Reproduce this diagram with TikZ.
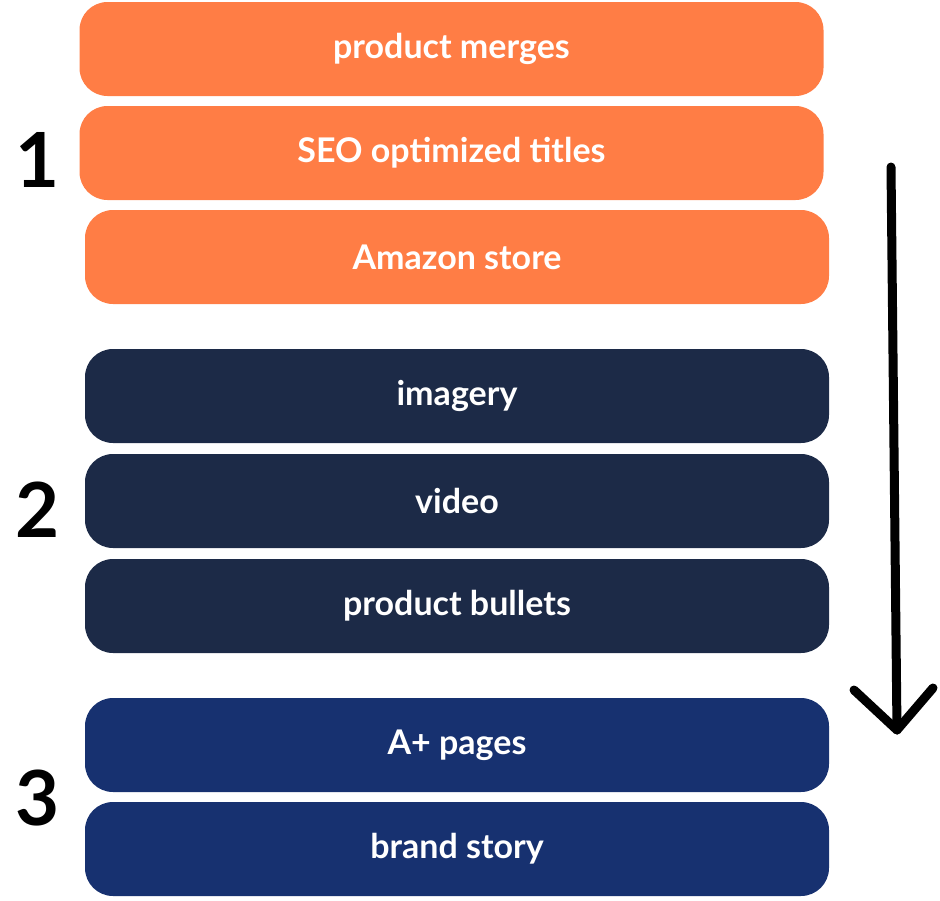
\documentclass[tikz,border=0pt]{standalone}
\usepackage{fontspec}
\setmainfont{Lato}
\definecolor{orng}{HTML}{FF7D45}
\definecolor{navy}{HTML}{1C2A47}
\definecolor{blu}{HTML}{173170}
\begin{document}
\begin{tikzpicture}[x=1pt,y=-1pt,
 bx/.style={rounded corners=28pt,minimum width=744pt,minimum height=94pt,inner sep=0pt,text=white,font=\fontsize{34}{40}\selectfont\bfseries},
 num/.style={font=\fontsize{76}{80}\selectfont\bfseries,text=black}]
\useasboundingbox (0,0) rectangle (940,900);
\node[bx,fill=orng] (a) at (451.5,49) {product merges};
\node[bx,fill=orng] (b) at (451.5,153) {SEO optimized titles};
\node[bx,fill=orng] (c) at (457,257) {Amazon store};
\node[bx,fill=navy] (d) at (457,396) {imagery};
\node[bx,fill=navy] (e) at (457,501) {video};
\node[bx,fill=navy] (f) at (457,606) {product bullets};
\node[bx,fill=blu] (g) at (457,745) {A+ pages};
\node[bx,fill=blu] (h) at (457,849) {brand story};
\node[num] (n1) at (38,160) {1};
\node[num] (n2) at (38,510) {2};
\node[num] (n3) at (38,798) {3};
\coordinate (s) at (891,167);
\coordinate (t) at (897,730);
\coordinate (l) at (854,690);
\coordinate (r) at (933,688);
\draw[line width=9pt,line cap=round] (s) -- (t);
\draw[line width=9pt,line cap=round,line join=round] (l) -- (t) -- (r);
\end{tikzpicture}
\end{document}
